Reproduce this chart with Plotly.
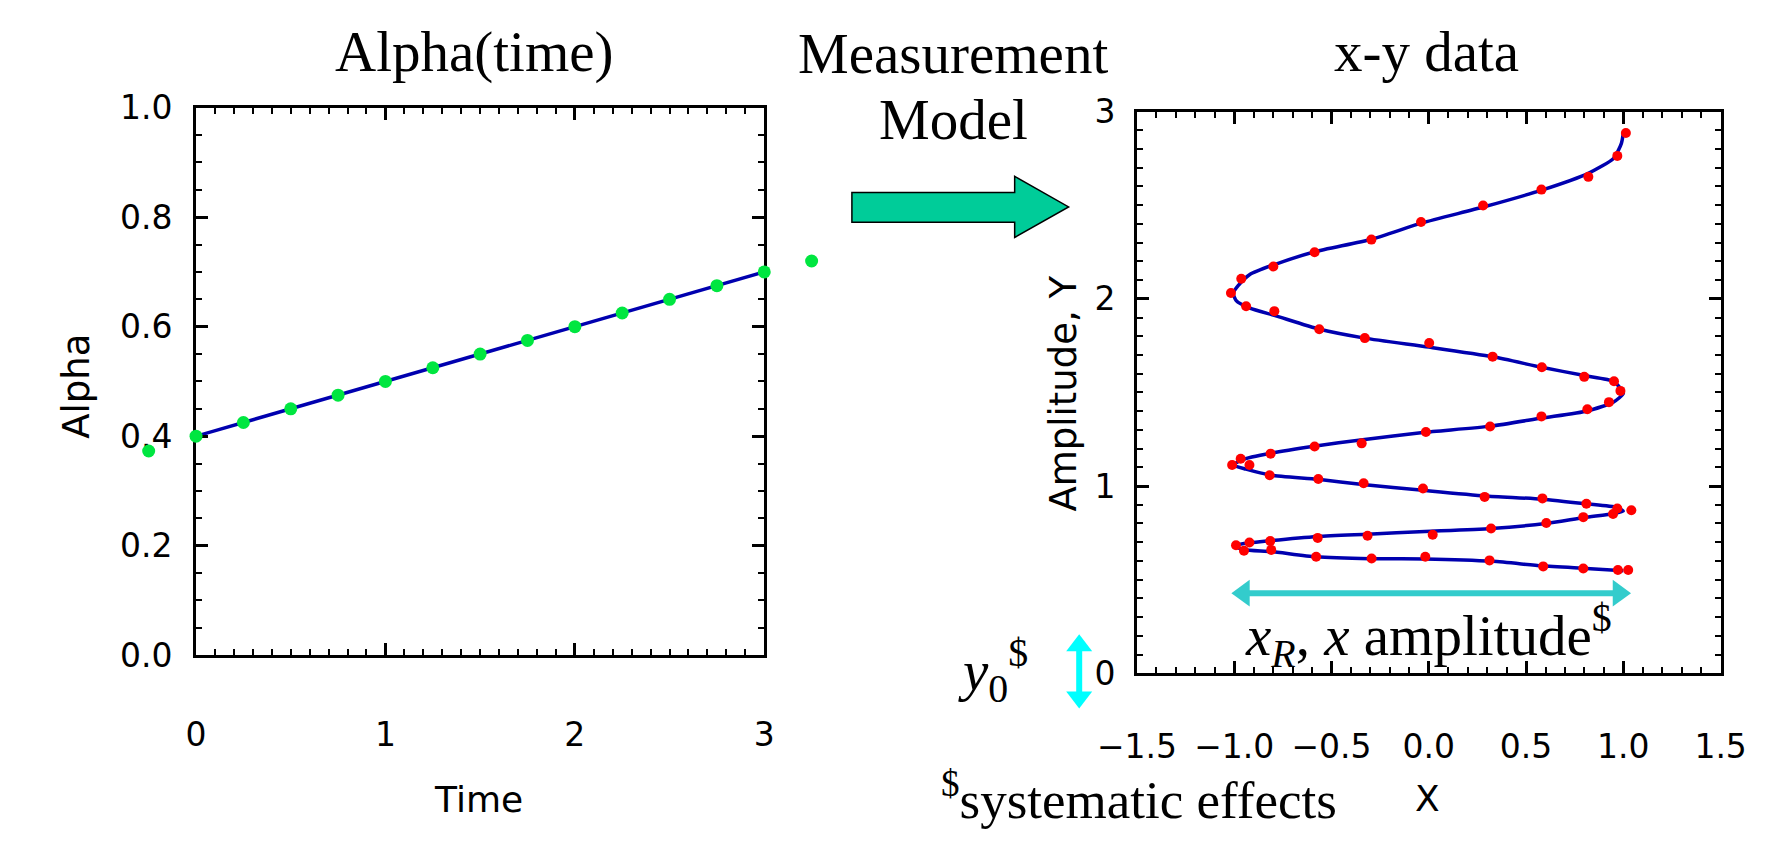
import plotly.graph_objects as go

W, H = 1789, 844

# ---------------- data: left panel (Alpha vs Time) ----------------
time_pts = [-0.25, 0.0, 0.25, 0.5, 0.75, 1.0, 1.25, 1.5, 1.75, 2.0, 2.25, 2.5, 2.75, 3.0, 3.25]
alpha_pts = [0.373, 0.400, 0.425, 0.450, 0.475, 0.500, 0.525, 0.550, 0.575, 0.600,
             0.625, 0.650, 0.675, 0.700, 0.720]
line_time = [0.0, 3.0]
line_alpha = [0.400, 0.700]

# ---------------- data: right panel (x-y data) ----------------
curve_x = [1.00, 0.81, 0.58, 0.33, -0.02, -0.30, -0.58, -0.81, -0.95, -1.00,
           -0.95, -0.81, -0.57, -0.315, -0.02, 0.32, 0.60, 0.80, 0.95, 1.00,
           0.965, 0.81, 0.58, 0.29, -0.03, -0.34, -0.57, -0.81, -0.94, -1.005,
           -0.96, -0.81, -0.59, -0.34, -0.03, 0.32, 0.58, 0.815, 0.95, 1.00,
           0.98, 0.95, 0.80, 0.58, 0.33, 0.00, -0.33, -0.56, -0.79, -0.92,
           -0.99, -1.005, -0.98, -0.92, -0.80, -0.59, -0.295, -0.035, 0.28, 0.58,
           0.82, 0.95, 0.99, 1.00]
curve_y = [0.548, 0.560, 0.574, 0.598, 0.611, 0.612, 0.622, 0.650, 0.660, 0.680,
           0.693, 0.709, 0.731, 0.743, 0.757, 0.773, 0.800, 0.832, 0.852, 0.866,
           0.886, 0.905, 0.930, 0.947, 0.977, 1.008, 1.036, 1.058, 1.090, 1.112,
           1.140, 1.176, 1.213, 1.247, 1.286, 1.320, 1.363, 1.401, 1.449, 1.495,
           1.528, 1.560, 1.590, 1.634, 1.690, 1.742, 1.790, 1.837, 1.910, 1.950,
           1.990, 2.030, 2.070, 2.130, 2.180, 2.250, 2.318, 2.405, 2.490, 2.580,
           2.670, 2.750, 2.830, 2.885]

meas_x = [1.025, 0.972, 0.794, 0.588, 0.312, -0.018, -0.294, -0.579, -0.810, -0.950,
          -0.991, -0.922, -0.815, -0.571, -0.315, 0.020, 0.320, 0.604, 0.794, 0.947,
          1.041, 0.969, 0.810, 0.584, 0.287, -0.030, -0.335, -0.568, -0.818, -0.922,
          -1.011, -0.967, -0.813, -0.587, -0.345, -0.015, 0.315, 0.579, 0.815, 0.926,
          0.985, 0.952, 0.799, 0.581, 0.328, 0.002, -0.329, -0.563, -0.794, -0.939,
          -1.017, -0.964, -0.799, -0.587, -0.295, -0.040, 0.279, 0.579, 0.820, 0.969,
          1.013]
meas_y = [0.552, 0.552, 0.560, 0.571, 0.603, 0.622, 0.613, 0.622, 0.659, 0.654,
          0.684, 0.698, 0.706, 0.723, 0.735, 0.740, 0.773, 0.803, 0.834, 0.851,
          0.871, 0.880, 0.905, 0.934, 0.942, 0.987, 1.015, 1.038, 1.058, 1.112,
          1.112, 1.146, 1.173, 1.211, 1.228, 1.289, 1.318, 1.372, 1.410, 1.448,
          1.508, 1.560, 1.583, 1.634, 1.691, 1.764, 1.790, 1.837, 1.934, 1.960,
          2.031, 2.107, 2.172, 2.248, 2.316, 2.410, 2.498, 2.583, 2.651, 2.763,
          2.885]

# ---------------- styling helpers ----------------
def fx(p):
    return p / W

def fy(p):
    return 1 - p / H

BLUE = "rgb(0,0,175)"
GREEN = "rgb(0,230,64)"
RED = "rgb(255,0,0)"
SERIF = "Liberation Serif, Times New Roman, serif"
SANS = "DejaVu Sans, sans-serif"

# left panel pixel geometry
L_X0, L_X1 = 162, 752           # x = 0 .. 3
L_Y0, L_Y1 = 667, 93            # alpha = 0 .. 1
L_PPU = (L_X1 - L_X0) / 3.0     # pixels per time unit
PAD = 0.3                       # extra time range for the samples outside the box

fig = go.Figure()

fig.add_trace(go.Scatter(x=line_time, y=line_alpha, mode="lines",
                         line=dict(color=BLUE, width=3.5), xaxis="x", yaxis="y",
                         showlegend=False, hoverinfo="skip"))
# markers on hidden, wider axes with the same scale so the samples before
# t=0 and after t=3 are drawn outside the box, as in the original
fig.add_trace(go.Scatter(x=time_pts, y=alpha_pts, mode="markers",
                         marker=dict(color=GREEN, size=13), xaxis="x3", yaxis="y3",
                         cliponaxis=False, showlegend=False))

fig.add_trace(go.Scatter(x=curve_x, y=curve_y, mode="lines",
                         line=dict(color=BLUE, width=3.5, shape="spline", smoothing=0.6),
                         xaxis="x2", yaxis="y2", showlegend=False, hoverinfo="skip"))
fig.add_trace(go.Scatter(x=meas_x, y=meas_y, mode="markers",
                         marker=dict(color=RED, size=10), xaxis="x2", yaxis="y2",
                         cliponaxis=False, showlegend=False))

axis_common = dict(showline=True, linecolor="black", linewidth=3, mirror="allticks",
                   ticks="inside", ticklen=12, tickwidth=2.5, tickcolor="black",
                   showgrid=False, zeroline=False,
                   tickfont=dict(family=SANS, size=33, color="black"))

def minor(dt):
    return dict(ticks="inside", ticklen=6, tickwidth=2, tickcolor="black", dtick=dt)

fig.update_layout(
    width=W, height=H,
    margin=dict(l=0, r=0, t=0, b=0),
    paper_bgcolor="white", plot_bgcolor="rgba(0,0,0,0)",
    xaxis=dict(domain=[fx(L_X0), fx(L_X1)], range=[0, 3], dtick=1, anchor="y",
               ticklabelstandoff=48, minor=minor(0.1), **axis_common),
    yaxis=dict(domain=[fy(L_Y0), fy(L_Y1)], range=[0, 1], dtick=0.2, tickformat=".1f",
               anchor="x", ticklabelstandoff=14, minor=minor(0.05), **axis_common),
    xaxis3=dict(domain=[fx(L_X0 - PAD * L_PPU), fx(L_X1 + PAD * L_PPU)],
                range=[-PAD, 3 + PAD], anchor="y3", visible=False, fixedrange=True),
    yaxis3=dict(domain=[fy(L_Y0), fy(L_Y1)], range=[0, 1], anchor="x3",
                visible=False, fixedrange=True),
    xaxis2=dict(domain=[fx(1139), fx(1745)], range=[-1.5, 1.5], dtick=0.5, tickformat=".1f",
                anchor="y2", ticklabelstandoff=42, minor=minor(0.1), **axis_common),
    yaxis2=dict(domain=[fy(686), fy(97)], range=[0, 3], dtick=1, anchor="x2",
                ticklabelstandoff=12, minor=minor(0.1), **axis_common),
)

def ann(text, x, y, size, family=SERIF, angle=0):
    fig.add_annotation(text=text, x=fx(x), y=fy(y), xref="paper", yref="paper",
                       showarrow=False, xanchor="center", yanchor="middle",
                       textangle=angle, font=dict(family=family, size=size, color="black"))

ann("Alpha(time)", 451, 35, 57)
ann("Measurement", 948, 36, 57)
ann("Model", 948, 105, 57)
ann("x-y data", 1440, 34, 57)
ann("Time", 455, 818, 36, SANS)
ann("Alpha", 38, 385, 37, SANS, -90)
ann("X", 1441, 817, 36, SANS)
ann("Amplitude, Y", 1063, 393, 37, SANS, -90)
ann("<sup>$</sup>systematic effects", 1141, 815, 53)
ann("<i>x</i><sub><i>R</i></sub>, <i>x</i> amplitude<sup>$</sup>", 1442, 646, 57)
ann("<i>y</i><sub>0</sub><sup>$</sup>", 990, 683, 57)

# green block arrow (measurement model)
green_path = (f"M {fx(843)},{fy(182)} L {fx(1012)},{fy(182)} L {fx(1012)},{fy(165)} "
              f"L {fx(1068)},{fy(197)} L {fx(1012)},{fy(229)} L {fx(1012)},{fy(213)} "
              f"L {fx(843)},{fy(213)} Z")
fig.add_shape(type="path", path=green_path, xref="paper", yref="paper",
              fillcolor="rgb(0,204,153)", line=dict(color="black", width=1.5))

# horizontal teal double arrow
TEAL = "rgb(51,204,204)"
fig.add_shape(type="line", x0=fx(1252), x1=fx(1637), y0=fy(602), y1=fy(602),
              xref="paper", yref="paper", line=dict(color=TEAL, width=6))
for tip, base in [(1237, 1256), (1652, 1633)]:
    p = f"M {fx(tip)},{fy(602)} L {fx(base)},{fy(588)} L {fx(base)},{fy(616)} Z"
    fig.add_shape(type="path", path=p, xref="paper", yref="paper",
                  fillcolor=TEAL, line=dict(color=TEAL, width=0))

# vertical cyan double arrow
CYAN = "rgb(0,255,255)"
fig.add_shape(type="line", x0=fx(1079), x1=fx(1079), y0=fy(660), y1=fy(708),
              xref="paper", yref="paper", line=dict(color=CYAN, width=6))
for tip, base in [(645, 663), (723, 705)]:
    p = f"M {fx(1079)},{fy(tip)} L {fx(1065.5)},{fy(base)} L {fx(1092.5)},{fy(base)} Z"
    fig.add_shape(type="path", path=p, xref="paper", yref="paper",
                  fillcolor=CYAN, line=dict(color=CYAN, width=0))

fig.write_html("out.html")
